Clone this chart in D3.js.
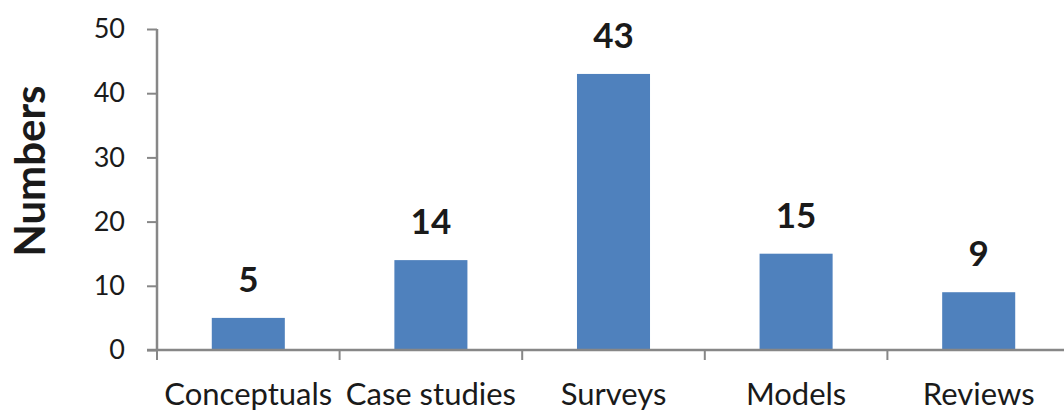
<!DOCTYPE html>
<html>
<head>
<meta charset="utf-8">
<script src="https://cdn.jsdelivr.net/npm/d3@7"></script>
<style>
  body { margin: 0; background: #fff; }
  svg { display: block; }
  text { font-family: Lato, "Open Sans", sans-serif; fill: #1a1a1a; }
</style>
</head>
<body>
<div id="chart"></div>
<script>
const categories = ["Conceptuals", "Case studies", "Surveys", "Models", "Reviews"];
const counts = [5, 14, 43, 15, 9];
const yTicks = [0, 10, 20, 30, 40, 50];
const yLabel = "Numbers";

const W = 1064, H = 412;
const axisColor = "#878787";
const barColor = "#4f81bd";

const svg = d3.select("#chart").append("svg")
    .attr("width", W)
    .attr("height", H);

// scales
const x = d3.scaleBand()
    .domain(categories)
    .range([157, 1070])
    .paddingInner(0.6)
    .paddingOuter(0.3);

const y = d3.scaleLinear()
    .domain([0, 50])
    .range([350, 29]);

// bars
svg.selectAll("rect.bar")
    .data(counts)
    .join("rect")
    .attr("class", "bar")
    .attr("x", (d, i) => x(categories[i]))
    .attr("y", d => y(d))
    .attr("width", x.bandwidth())
    .attr("height", d => y(0) - y(d))
    .attr("fill", barColor);

// value labels
svg.selectAll("text.val")
    .data(counts)
    .join("text")
    .attr("class", "val")
    .attr("x", (d, i) => x(categories[i]) + x.bandwidth() / 2)
    .attr("y", d => y(d) - 26)
    .attr("text-anchor", "middle")
    .style("font-size", "35px")
    .style("font-weight", "bold")
    .text(d => d);

// y axis
const yAxis = svg.append("g")
    .attr("transform", "translate(157,0)")
    .call(d3.axisLeft(y).tickValues(yTicks).tickSize(10).tickPadding(22));
yAxis.select(".domain").attr("stroke", axisColor).attr("stroke-width", 2.5)
    .attr("d", `M0,${y(50)}V${y(0)}`);
yAxis.selectAll(".tick line").attr("stroke", axisColor).attr("stroke-width", 2);
yAxis.selectAll(".tick text")
    .style("font-size", "27px")
    .style("font-family", "Lato, sans-serif")
    .attr("fill", "#1a1a1a");

// x axis: line with ticks at category boundaries
const bounds = d3.range(categories.length + 1).map(i => 157 + i * x.step());
const xAxis = svg.append("g");
xAxis.append("line")
    .attr("x1", 147).attr("x2", W + 10)
    .attr("y1", y(0)).attr("y2", y(0))
    .attr("stroke", axisColor)
    .attr("stroke-width", 2.5);
xAxis.selectAll("line.xt")
    .data(bounds)
    .join("line")
    .attr("class", "xt")
    .attr("x1", d => d).attr("x2", d => d)
    .attr("y1", y(0)).attr("y2", y(0) + 10)
    .attr("stroke", axisColor)
    .attr("stroke-width", 2);
xAxis.selectAll("text.cat")
    .data(categories)
    .join("text")
    .attr("class", "cat")
    .attr("x", d => x(d) + x.bandwidth() / 2)
    .attr("y", 405)
    .attr("text-anchor", "middle")
    .style("font-size", "31px")
    .text(d => d);

// y axis title
svg.append("text")
    .attr("transform", `translate(45,171) rotate(-90)`)
    .attr("text-anchor", "middle")
    .style("font-size", "42px")
    .style("font-weight", "bold")
    .text(yLabel);
</script>
</body>
</html>
